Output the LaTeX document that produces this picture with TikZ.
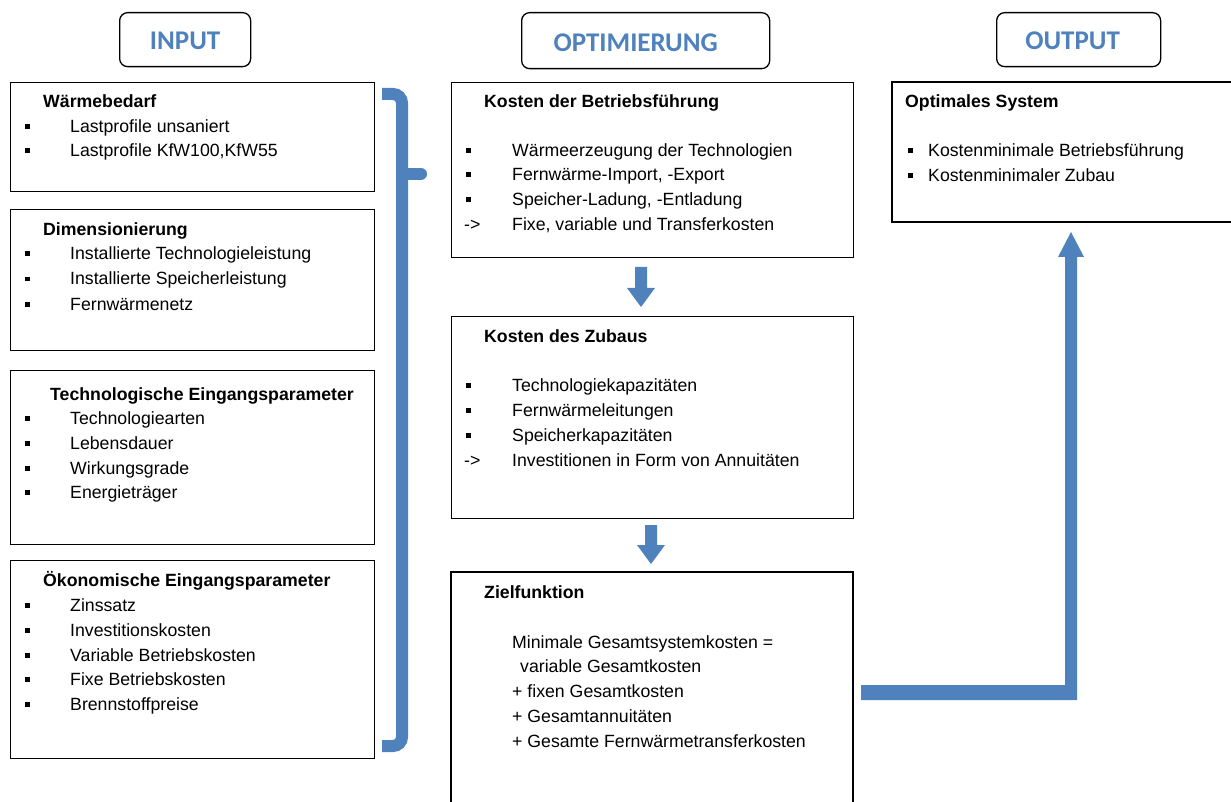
\documentclass[tikz,border=0pt]{standalone}
\usepackage{fontspec}
\setmainfont{Liberation Sans}
\newfontfamily\hdrfont{Carlito}
\definecolor{officeblue}{RGB}{79,129,189}
\newcommand\bulsym{\rule[3.5pt]{4.5pt}{5pt}}
\begin{document}
\begin{tikzpicture}[x=1pt,y=-1pt,
  box/.style={draw=black,line width=1.3pt,anchor=north west,inner sep=0pt},
  hdr/.style={draw=black,line width=1.3pt,rounded corners=8pt,anchor=north west,inner sep=0pt},
  hdrtxt/.style={font=\hdrfont\fontsize{27}{30}\selectfont\bfseries,text=officeblue,inner sep=0pt},
  txt/.style={anchor=base west,inner sep=0pt,font=\fontsize{17.7}{20}\selectfont},
  ttl/.style={txt,font=\fontsize{17.7}{20}\selectfont\bfseries},
  barrow/.style={fill=officeblue,draw=none}]
\useasboundingbox (0,0) rectangle (1231,802);

% header boxes
\node[hdr,minimum width=131pt,minimum height=54pt] (hin) at (119,12) {};
\node[hdrtxt] at ([yshift=-1.5pt]hin.center) {INPUT};
\node[hdr,minimum width=248pt,minimum height=56pt] (hopt) at (521,12) {};
\node[hdrtxt] at ([xshift=-10pt,yshift=-2pt]hopt.center) {OPTIMIERUNG};
\node[hdr,minimum width=164pt,minimum height=54pt] (hout) at (996,12) {};
\node[hdrtxt] at ([xshift=-6pt,yshift=-1.5pt]hout.center) {OUTPUT};

% left boxes
\node[box,minimum width=364pt,minimum height=109pt] (b1) at (10,82) {};
\node[box,minimum width=364pt,minimum height=141pt] (b2) at (10,209) {};
\node[box,minimum width=364pt,minimum height=174pt] (b3) at (10,370) {};
\node[box,minimum width=364pt,minimum height=198pt] (b4) at (10,560) {};

\node[ttl] (b1t) at (43,108) {Wärmebedarf};
\node[txt] (b1a) at (25,133) {\makebox[45pt][l]{\bulsym}Lastprofile unsaniert};
\node[txt] (b1b) at (25,157) {\makebox[45pt][l]{\bulsym}Lastprofile KfW100,KfW55};

\node[ttl] (b2t) at (43,236) {Dimensionierung};
\node[txt] (b2a) at (25,260) {\makebox[45pt][l]{\bulsym}Installierte Technologieleistung};
\node[txt] (b2b) at (25,285) {\makebox[45pt][l]{\bulsym}Installierte Speicherleistung};
\node[txt] (b2c) at (25,310) {\makebox[45pt][l]{\bulsym}Fernwärmenetz};

\node[ttl] (b3t) at (50,400) {Technologische Eingangsparameter};
\node[txt] (b3a) at (25,424) {\makebox[45pt][l]{\bulsym}Technologiearten};
\node[txt] (b3b) at (25,449) {\makebox[45pt][l]{\bulsym}Lebensdauer};
\node[txt] (b3c) at (25,474) {\makebox[45pt][l]{\bulsym}Wirkungsgrade};
\node[txt] (b3d) at (25,498) {\makebox[45pt][l]{\bulsym}Energieträger};

\node[ttl] (b4t) at (43,586) {Ökonomische Eingangsparameter};
\node[txt] (b4a) at (25,611) {\makebox[45pt][l]{\bulsym}Zinssatz};
\node[txt] (b4b) at (25,636) {\makebox[45pt][l]{\bulsym}Investitionskosten};
\node[txt] (b4c) at (25,661) {\makebox[45pt][l]{\bulsym}Variable Betriebskosten};
\node[txt] (b4d) at (25,685) {\makebox[45pt][l]{\bulsym}Fixe Betriebskosten};
\node[txt] (b4e) at (25,710) {\makebox[45pt][l]{\bulsym}Brennstoffpreise};

% brace
\draw[officeblue,line width=12pt,rounded corners=9pt] (382,94) -- (402,94) -- (402,746) -- (382,746);
\draw[officeblue,line width=12pt,line cap=round] (402,174) -- (421,174);

% middle boxes
\node[box,minimum width=402pt,minimum height=175pt] (m1) at (451,82) {};
\node[box,minimum width=402pt,minimum height=202pt] (m2) at (451,316) {};
\coordinate (m3tl) at (451,572);
\coordinate (m3tr) at (853,572);
\draw[line width=1.3pt] (451,803) -- (m3tl) -- (m3tr) -- (853,803);

\node[ttl] (m1t) at (484,108) {Kosten der Betriebsführung};
\node[txt] (m1a) at (466,157) {\makebox[46pt][l]{\bulsym}Wärmeerzeugung der Technologien};
\node[txt] (m1b) at (466,181) {\makebox[46pt][l]{\bulsym}Fernwärme-Import, -Export};
\node[txt] (m1c) at (466,206) {\makebox[46pt][l]{\bulsym}Speicher-Ladung, -Entladung};
\node[txt] (m1d) at (464,231) {\makebox[48pt][l]{->}Fixe, variable und Transferkosten};

\node[ttl] (m2t) at (484,342) {Kosten des Zubaus};
\node[txt] (m2a) at (466,391) {\makebox[46pt][l]{\bulsym}Technologiekapazitäten};
\node[txt] (m2b) at (466,416) {\makebox[46pt][l]{\bulsym}Fernwärmeleitungen};
\node[txt] (m2c) at (466,441) {\makebox[46pt][l]{\bulsym}Speicherkapazitäten};
\node[txt] (m2d) at (464,466) {\makebox[48pt][l]{->}Investitionen in Form von Annuitäten};

\node[ttl] (m3t) at (484,598) {Zielfunktion};
\node[txt] (m3a) at (512,648) {Minimale Gesamtsystemkosten =};
\node[txt] (m3b) at (520,672) {variable Gesamtkosten};
\node[txt] (m3c) at (512,697) {+ fixen Gesamtkosten};
\node[txt] (m3d) at (512,722) {+ Gesamtannuitäten};
\node[txt] (m3e) at (512,747) {+ Gesamte Fernwärmetransferkosten};

% down arrows
\fill[barrow] (635,267) -- (647,267) -- (647,288) -- (655,288) -- (641,307) -- (627,288) -- (635,288) -- cycle;
\fill[barrow] (645,525) -- (657,525) -- (657,545) -- (665,545) -- (651,564) -- (637,545) -- (645,545) -- cycle;

% right box
\coordinate (rtr) at (1232,82);
\coordinate (rbr) at (1232,222);
\draw[line width=1.3pt] (rtr) -- (892,82) coordinate (rtl) -- (892,222) coordinate (rbl) -- (rbr);
\node[ttl] (rt) at (905,108) {Optimales System};
\node[txt] (ra) at (908,157) {\makebox[20pt][l]{\bulsym}Kostenminimale Betriebsführung};
\node[txt] (rb) at (908,182) {\makebox[20pt][l]{\bulsym}Kostenminimaler Zubau};

% output arrow
\fill[barrow] (861,685) -- (1065,685) -- (1065,257) -- (1058,257) -- (1071,232) -- (1084,257) -- (1077,257) -- (1077,700) -- (861,700) -- cycle;
\end{tikzpicture}
\end{document}
